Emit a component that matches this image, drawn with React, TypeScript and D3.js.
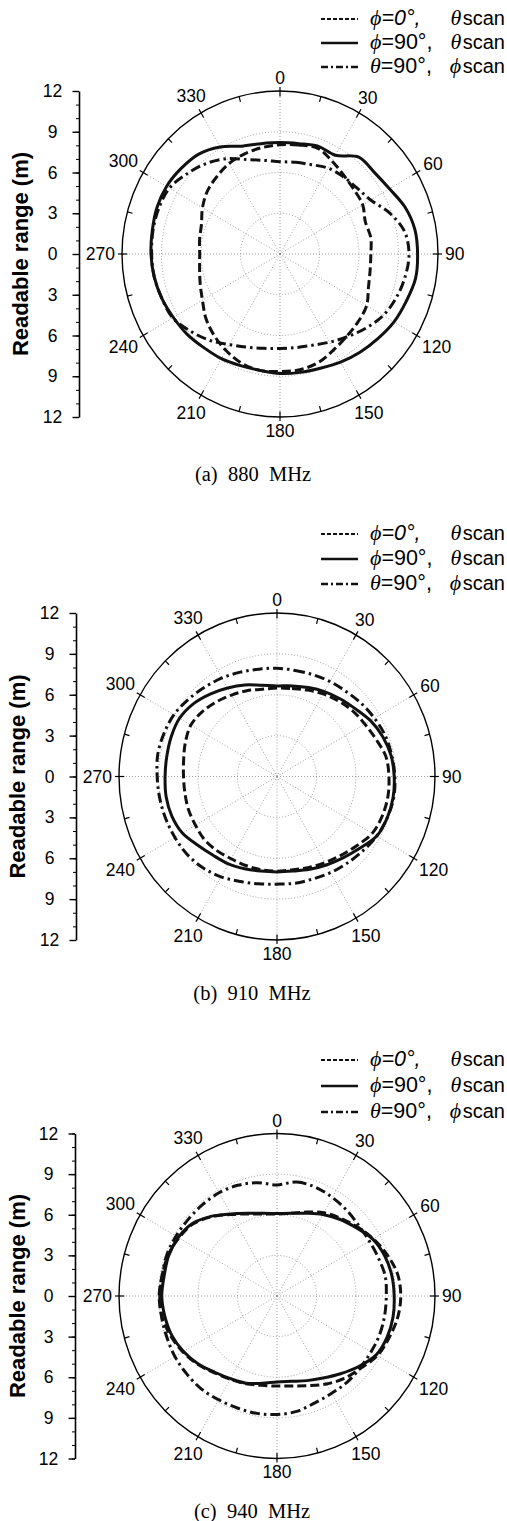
import * as d3 from 'd3';
import React, { useRef, useEffect } from 'react';

// measurement angles (deg, clockwise from top)
const angleDeg = [0, 10, 20, 30, 40, 50, 60, 70, 80, 90, 100, 110, 120, 130, 140, 150, 160, 170,
    180, 190, 200, 210, 220, 230, 240, 250, 260, 270, 280, 290, 300, 310, 320, 330, 340, 350];

// (a) 880 MHz
const a880Phi0 = [8.05, 8.15, 8.3, 7.9, 7.55, 7.35, 7.25, 6.9, 7.0, 6.9, 6.95, 7.15, 7.6, 7.75, 7.9, 8.15, 8.5, 8.65,
    8.65, 8.7, 8.55, 8.2, 7.8, 7.35, 6.8, 6.45, 6.2, 6.1, 6.2, 6.35, 6.8, 7.2, 7.45, 7.7, 7.85, 7.95];
const a880Phi90 = [8.2, 8.25, 8.45, 8.4, 9.3, 9.35, 9.6, 10.1, 10.4, 10.45, 10.45, 10.2, 10.0, 9.7, 9.45, 9.2, 8.95, 8.85,
    8.8, 8.7, 8.75, 8.9, 9.0, 9.2, 9.35, 9.55, 9.7, 9.8, 9.85, 9.95, 9.95, 9.8, 9.6, 9.1, 8.45, 8.25];
const a880Theta90 = [6.8, 6.85, 7.0, 7.3, 7.45, 7.6, 7.95, 8.85, 9.6, 9.8, 9.65, 9.4, 9.05, 8.5, 7.95, 7.5, 7.15, 7.0,
    6.95, 7.05, 7.3, 7.7, 8.3, 8.85, 9.4, 9.55, 9.7, 9.75, 9.8, 9.8, 9.7, 9.2, 8.7, 8.1, 7.4, 7.0];

// (b) 910 MHz
const b910Phi0 = [6.5, 6.55, 6.75, 7.0, 7.25, 7.5, 7.7, 8.0, 8.4, 8.5, 8.55, 8.5, 8.35, 7.9, 7.55, 7.3, 7.1, 6.95,
    6.95, 6.95, 6.95, 6.97, 7.1, 7.2, 7.15, 7.15, 7.1, 7.1, 7.2, 7.4, 7.55, 7.4, 7.15, 6.9, 6.7, 6.5];
const b910Phi90 = [6.65, 6.75, 6.95, 7.2, 7.45, 7.75, 8.2, 8.55, 8.8, 8.9, 8.95, 8.9, 8.75, 8.2, 7.8, 7.5, 7.25, 7.05,
    7.0, 7.05, 7.2, 7.4, 7.55, 7.85, 8.3, 8.5, 8.55, 8.5, 8.5, 8.55, 8.55, 8.3, 7.9, 7.5, 7.15, 6.8];
const b910Theta90 = [7.95, 7.9, 7.95, 8.05, 8.15, 8.35, 8.55, 8.75, 8.85, 8.95, 9.0, 8.9, 8.75, 8.5, 8.3, 8.15, 8.0, 7.95,
    7.9, 8.0, 8.2, 8.5, 8.75, 8.9, 8.95, 9.0, 9.05, 9.1, 9.2, 9.15, 9.05, 8.8, 8.55, 8.35, 8.15, 8.0];

// (c) 940 MHz
const c940Phi0 = [6.05, 6.2, 6.6, 7.1, 7.5, 7.95, 8.45, 8.9, 9.3, 9.4, 9.3, 9.05, 8.8, 8.3, 7.95, 7.5, 7.05, 6.75,
    6.65, 6.7, 6.9, 7.1, 7.4, 7.85, 8.25, 8.6, 8.85, 8.95, 8.85, 8.8, 8.6, 8.3, 7.65, 6.95, 6.45, 6.15];
const c940Phi90 = [6.1, 6.2, 6.5, 6.95, 7.4, 7.85, 8.4, 8.7, 8.85, 8.9, 8.95, 8.9, 8.7, 8.1, 7.5, 7.0, 6.65, 6.4,
    6.35, 6.55, 6.85, 7.05, 7.35, 7.8, 8.2, 8.5, 8.65, 8.75, 8.7, 8.75, 8.65, 8.35, 7.7, 7.0, 6.5, 6.2];
const c940Theta90 = [8.2, 8.55, 8.55, 8.4, 8.25, 8.1, 8.1, 8.2, 8.35, 8.3, 8.3, 8.3, 8.25, 8.25, 8.3, 8.3, 8.4, 8.65,
    8.75, 8.8, 8.8, 8.85, 8.95, 8.95, 8.95, 8.9, 8.9, 8.9, 8.85, 8.9, 8.85, 8.8, 8.8, 8.8, 8.7, 8.5];

const captions = ['(a)  880  MHz', '(b)  910  MHz', '(c)  940  MHz'];
const angleLabels = [0, 30, 60, 90, 120, 150, 180, 210, 240, 270, 300, 330];
const gridRings = [3, 6, 9];
const rangeTicks = [-12, -9, -6, -3, 0, 3, 6, 9, 12];
const legendLead = ['=0°,', '=90°,', '=90°,'];
const legendLeadSym = ['ϕ', 'ϕ', 'θ'];
const legendScanSym = ['θ', 'θ', 'ϕ'];

const panelData = [
    [a880Phi0, a880Phi90, a880Theta90],
    [b910Phi0, b910Phi90, b910Theta90],
    [c940Phi0, c940Phi90, c940Theta90],
];

// layout only
const layout = [
    { cx: 280, cy: 254, rx: 158, ry: 163, axisX: 79, labelX: 20, legendY: [25, 49, 73], captionX: 253, captionY: 481 },
    { cx: 277, cy: 776.5, rx: 158, ry: 163.5, axisX: 76, labelX: 17, legendY: [540, 565, 590], captionX: 252, captionY: 1000 },
    { cx: 277, cy: 1296, rx: 158, ry: 162.5, axisX: 75, labelX: 17.5, legendY: [1066, 1092, 1118], captionX: 252, captionY: 1518 },
];

const curveDash = ['9,4', null, '10,4,2.5,4'];
const legendDash = ['4,2', null, '7,3,2,3'];
const legendWidth = [1.8, 2.4, 2.4];

const SANS = 'Arial, "Liberation Sans", sans-serif';
const SERIF = '"Times New Roman", "Liberation Serif", serif';

const App = () => {
    const ref = useRef<SVGSVGElement>(null);

    useEffect(() => {
        const svg = d3.select(ref.current);
        svg.selectAll('*').remove();
        layout.forEach((p, i) => drawPanel(svg, p, panelData[i], captions[i]));
    }, []);

    function drawPanel(svg: any, p: any, series: number[][], caption: string) {
        const g = svg.append('g');
        const rX = d3.scaleLinear().domain([0, 12]).range([0, p.rx]);
        const rY = d3.scaleLinear().domain([0, 12]).range([0, p.ry]);
        const rad = (a: number) => (a * Math.PI) / 180;
        const px = (a: number, r: number) => p.cx + rX(r) * Math.sin(rad(a));
        const py = (a: number, r: number) => p.cy - rY(r) * Math.cos(rad(a));

        // dotted rings
        g.selectAll('ellipse.ring')
            .data(gridRings)
            .join('ellipse')
            .attr('class', 'ring')
            .attr('cx', p.cx).attr('cy', p.cy)
            .attr('rx', (d: number) => rX(d)).attr('ry', (d: number) => rY(d))
            .attr('fill', 'none').attr('stroke', '#888').attr('stroke-width', 0.8)
            .attr('stroke-dasharray', '1,2');

        // spokes
        const spokes = d3.range(0, 360, 30);
        g.selectAll('line.spoke')
            .data(spokes)
            .join('line')
            .attr('x1', p.cx).attr('y1', p.cy)
            .attr('x2', (d: number) => px(d, 12)).attr('y2', (d: number) => py(d, 12))
            .attr('stroke', '#888').attr('stroke-width', 0.8).attr('stroke-dasharray', '1,2');

        // outer ring
        g.append('ellipse')
            .attr('cx', p.cx).attr('cy', p.cy).attr('rx', rX(12)).attr('ry', rY(12))
            .attr('fill', 'none').attr('stroke', '#000').attr('stroke-width', 1.4);

        // ticks on the outer ring
        const ticks = d3.range(0, 360, 15);
        g.selectAll('line.tick')
            .data(ticks)
            .join('line')
            .attr('x1', (d: number) => px(d, 12 - 0.4))
            .attr('y1', (d: number) => py(d, 12 - 0.4))
            .attr('x2', (d: number) => px(d, d % 30 === 0 ? 12.3 : 12))
            .attr('y2', (d: number) => py(d, d % 30 === 0 ? 12.3 : 12))
            .attr('stroke', '#000').attr('stroke-width', 1.2);

        // angle labels
        const fs = 17.5;
        const ext = (d: number) => {
            const w = String(d).length * 0.556 * fs;
            return Math.abs(Math.sin(rad(d))) * w / 2 + Math.abs(Math.cos(rad(d))) * 0.36 * fs + 7;
        };
        g.selectAll('text.ang')
            .data(angleLabels)
            .join('text')
            .attr('x', (d: number) => px(d, 12) + ext(d) * Math.sin(rad(d)))
            .attr('y', (d: number) => py(d, 12) - ext(d) * Math.cos(rad(d)))
            .attr('dy', '0.36em')
            .attr('text-anchor', 'middle')
            .style('font-family', SANS).style('font-size', `${fs}px`)
            .text((d: number) => d);

        // left range axis
        const yScale = d3.scaleLinear().domain([-12, 12]).range([p.cy + p.ry, p.cy - p.ry]);
        const minor = g.append('g').attr('transform', `translate(${p.axisX},0)`);
        minor.call(d3.axisLeft(yScale).tickValues(d3.range(-12, 13, 1)).tickSize(3).tickFormat(() => ''));
        minor.select('.domain').remove();
        minor.selectAll('line').attr('stroke', '#000').attr('stroke-width', 1);

        const axis = g.append('g').attr('transform', `translate(${p.axisX},0)`);
        axis.call(
            d3.axisLeft(yScale)
                .tickValues(rangeTicks)
                .tickSize(6.5)
                .tickSizeOuter(0)
                .tickFormat((d: any) => String(Math.abs(d)))
        );
        axis.select('.domain').attr('stroke', '#000').attr('stroke-width', 1.6);
        axis.selectAll('line').attr('stroke', '#000').attr('stroke-width', 1.4);
        axis.selectAll('text')
            .attr('x', -26.5)
            .attr('text-anchor', 'middle')
            .attr('fill', '#000')
            .style('font-family', SANS).style('font-size', '17.5px');

        g.append('text')
            .attr('transform', `translate(${p.labelX},${p.cy}) rotate(-90)`)
            .attr('dy', '0.36em')
            .attr('text-anchor', 'middle')
            .style('font-family', SANS).style('font-size', '22px').style('font-weight', 'bold')
            .text('Readable range (m)');

        // curves
        const line = d3.line<number>()
            .x((r, i) => px(angleDeg[i], r))
            .y((r, i) => py(angleDeg[i], r))
            .curve(d3.curveCatmullRomClosed.alpha(0.5));

        series.forEach((s, k) => {
            g.append('path')
                .attr('d', line(s))
                .attr('fill', 'none')
                .attr('stroke', '#111')
                .attr('stroke-width', 3)
                .attr('stroke-linejoin', 'round')
                .attr('stroke-dasharray', curveDash[k]);
        });

        // legend
        p.legendY.forEach((y: number, k: number) => {
            g.append('line')
                .attr('x1', 321).attr('x2', 358)
                .attr('y1', y - 6).attr('y2', y - 6)
                .attr('stroke', '#111').attr('stroke-width', legendWidth[k])
                .attr('stroke-dasharray', legendDash[k]);
            const t = g.append('text')
                .attr('x', 370).attr('y', y)
                .style('font-family', SANS).style('font-size', '21.5px');
            t.append('tspan').style('font-family', SERIF).style('font-style', 'italic').style('font-size', '22px').text(legendLeadSym[k]);
            t.append('tspan').style('font-style', k === 0 ? 'italic' : 'normal').text(legendLead[k]);
            const s = g.append('text')
                .attr('x', 505).attr('y', y)
                .attr('text-anchor', 'end')
                .style('font-family', SANS).style('font-size', '20px');
            s.append('tspan').style('font-family', SERIF).style('font-style', 'italic').style('font-size', '22px').text(legendScanSym[k]);
            s.append('tspan').attr('dx', 1.5).text('scan');
        });

        // caption
        g.append('text')
            .attr('x', p.captionX).attr('y', p.captionY)
            .attr('text-anchor', 'middle')
            .style('font-family', SERIF).style('font-size', '20.5px').style('white-space', 'pre')
            .text(caption);
    }

    return (
        <svg ref={ref} width={507} height={1521}
            style={{ position: 'absolute', left: 0, top: 0, background: '#fff' }} />
    );
};

export default App;
